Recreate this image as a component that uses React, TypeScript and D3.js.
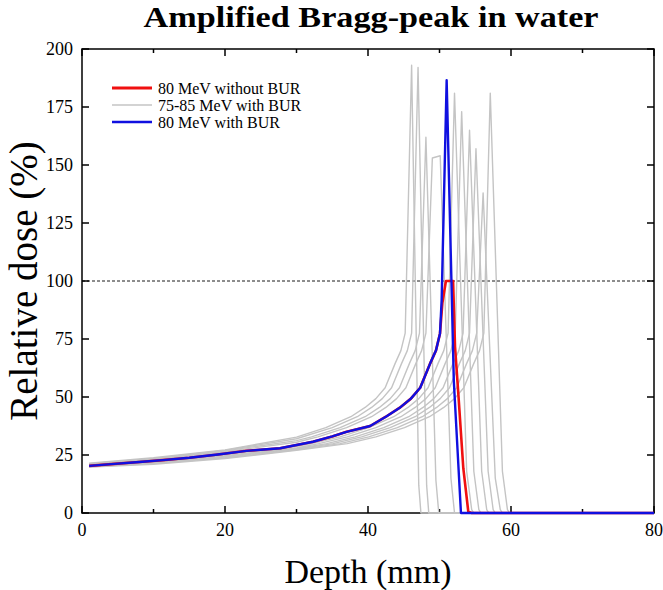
import React from "react";
import * as d3 from "d3";

// ---------- data (depth mm, relative dose %) ----------
const xTicksMajor = [0, 20, 40, 60, 80];
const xTicksMinor = [10, 30, 50, 70];
const yTicks = [0, 25, 50, 75, 100, 125, 150, 175, 200];

const legendLabels = ["80 MeV without BUR", "75-85 MeV with BUR", "80 MeV with BUR"];

const entrance80: [number, number][] = [
  [1, 20.3], [5, 21.3], [8, 22.0], [11.3, 22.8], [15, 23.8], [19, 25.2], [23, 26.8],
  [27.7, 27.9], [32.3, 30.7], [35, 33.0], [37, 35.0], [40.3, 37.5], [42.5, 41.5],
  [44.5, 45.5], [46, 49.3], [47.3, 54], [48.7, 64.5], [49.5, 70], [50.07, 77.4],
];

const noBur80: [number, number][] = [
  ...entrance80,
  [50.4, 90.5], [50.9, 100], [51.9, 100], [52.17, 71.7], [52.63, 51.5], [53.33, 19.3],
  [54.03, 0.5], [54.5, 0], [80, 0],
];

const withBur80: [number, number][] = [
  ...entrance80,
  [50.3, 91.8], [51.0, 186.5], [52.0, 57], [53.0, 0], [80, 0],
];

const bur75: [number, number][] = [
  [1, 21.5], [10, 23.8], [20, 27.2], [30, 32.7], [34.1, 36.8], [37.6, 41.5], [39.6, 45.5],
  [41.1, 49.3], [42.4, 54], [43.8, 64.5], [44.6, 70], [45.2, 77.5], [46.1, 193],
  [47.1, 12], [47.4, 0], [80, 0],
];
const bur76: [number, number][] = [
  [1, 21.3], [10, 23.5], [20, 27.0], [30, 32.0], [35, 36.8], [38.5, 41.5], [40.5, 45.5],
  [42, 49.3], [43.3, 54], [44.7, 64.5], [45.5, 70], [46.1, 77.5], [47.0, 192],
  [48.2, 12], [48.5, 0], [80, 0],
];
const bur77: [number, number][] = [
  [1, 21.0], [10, 23.2], [20, 26.8], [30, 31.2], [32.1, 32.8], [36.1, 36.8], [39.6, 41.5],
  [41.6, 45.5], [43.1, 49.3], [44.4, 54], [45.8, 64.5], [46.6, 70], [47.2, 77.5],
  [48.1, 162], [49.5, 14], [49.9, 0], [80, 0],
];
const bur78: [number, number][] = [
  [1, 20.8], [10, 23.0], [20, 26.4], [30, 30.5], [33, 32.8], [37, 36.8], [40.5, 41.5],
  [42.5, 45.5], [44, 49.3], [45.3, 54], [46.7, 64.5], [47.5, 70], [48.1, 77.5],
  [49.0, 153], [50.1, 154], [51.6, 15], [52.1, 0], [80, 0],
];
const bur79: [number, number][] = [
  [1, 20.2], [10, 22.2], [20, 25.2], [30, 28.6], [32.1, 29.9], [36.1, 32.8], [40.1, 36.8],
  [43.6, 41.5], [45.6, 45.5], [47.1, 49.3], [48.4, 54], [49.8, 64.5], [50.6, 70],
  [51.2, 77.5], [52.1, 181], [53.8, 18], [54.5, 1.5], [54.8, 0], [80, 0],
];
const bur81: [number, number][] = [
  [1, 20.1], [10, 22.0], [20, 24.8], [30, 28.0], [33.1, 29.9], [37.1, 32.8], [41.1, 36.8],
  [44.6, 41.5], [46.6, 45.5], [48.1, 49.3], [49.4, 54], [50.8, 64.5], [51.6, 70],
  [52.2, 77.5], [53.1, 173], [54.8, 18], [55.5, 1.5], [55.8, 0], [80, 0],
];
const bur82: [number, number][] = [
  [1, 20.1], [10, 21.7], [20, 24.4], [30, 27.7], [34.2, 29.9], [38.2, 32.8], [42.2, 36.8],
  [45.7, 41.5], [47.7, 45.5], [49.2, 49.3], [50.5, 54], [51.9, 64.5], [52.7, 70],
  [53.3, 77.5], [54.2, 165], [55.9, 18], [56.6, 1.5], [56.9, 0], [80, 0],
];
const bur83: [number, number][] = [
  [1, 20.0], [10, 21.5], [20, 24.1], [30, 27.5], [35.1, 29.9], [39.1, 32.8], [43.1, 36.8],
  [46.6, 41.5], [48.6, 45.5], [50.1, 49.3], [51.4, 54], [52.8, 64.5], [53.6, 70],
  [54.2, 77.5], [55.1, 157], [56.8, 18], [57.5, 1.5], [57.8, 0], [80, 0],
];
const bur84: [number, number][] = [
  [1, 19.9], [10, 21.3], [20, 23.8], [30, 27.2], [36.1, 29.9], [40.1, 32.8], [44.1, 36.8],
  [47.6, 41.5], [49.6, 45.5], [51.1, 49.3], [52.4, 54], [53.8, 64.5], [54.6, 70],
  [55.2, 77.5], [56.1, 138], [57.8, 15], [58.5, 1.5], [58.8, 0], [80, 0],
];
const bur85: [number, number][] = [
  [1, 19.8], [10, 21.0], [20, 23.5], [30, 27.0], [37.1, 29.9], [41.1, 32.8], [45.1, 36.8],
  [48.6, 41.5], [50.6, 45.5], [52.1, 49.3], [53.4, 54], [54.8, 64.5], [55.6, 70],
  [56.2, 77.5], [57.1, 181], [58.8, 18], [59.5, 1.5], [59.8, 0], [80, 0],
];

const greyCurves = [bur75, bur76, bur77, bur78, bur79, bur81, bur82, bur83, bur84, bur85];

// ---------- layout ----------
const W = 663;
const H = 590;
const left = 82;
const right = 654;
const top = 49;
const bottom = 513;

const RED = "#f01010";
const BLUE = "#1010e0";
const GREY = "#c4c4c4";
const SERIF = "'Liberation Serif', 'Times New Roman', serif";

export default function App() {
  const x = d3.scaleLinear().domain([0, 80]).range([left, right]);
  const y = d3.scaleLinear().domain([0, 200]).range([bottom, top]);
  const line = d3
    .line<[number, number]>()
    .x((d) => x(d[0]))
    .y((d) => y(d[1]));

  const legendX = 112;
  const legendY = [88, 105, 122];
  const legendColors = [RED, GREY, BLUE];
  const legendWidths = [3, 1.5, 2.5];

  return (
    <svg
      width={W}
      height={H}
      style={{ position: "absolute", left: 0, top: 0, background: "#fff" }}
      fontFamily={SERIF}
    >
      <rect x={0} y={0} width={W} height={H} fill="#fff" />
      {/* title */}
      <text
        x={371}
        y={27}
        textAnchor="middle"
        fontSize={30}
        fontWeight="bold"
        fill="#000"
        textLength={455}
        lengthAdjust="spacingAndGlyphs"
      >
        Amplified Bragg-peak in water
      </text>

      {/* reference line at 100 % */}
      <line
        x1={x(0)}
        x2={x(80)}
        y1={y(100)}
        y2={y(100)}
        stroke="#000"
        strokeWidth={0.9}
        strokeDasharray="3,2"
      />

      {/* frame */}
      <rect
        x={left}
        y={top}
        width={right - left}
        height={bottom - top}
        fill="none"
        stroke="#000"
        strokeWidth={1.5}
      />

      {/* x ticks */}
      {xTicksMajor.map((t) => (
        <g key={"xm" + t}>
          <line x1={x(t)} x2={x(t)} y1={bottom} y2={bottom - 7} stroke="#000" strokeWidth={1.5} />
          <line x1={x(t)} x2={x(t)} y1={top} y2={top + 7} stroke="#000" strokeWidth={1.5} />
          <text x={x(t)} y={536} textAnchor="middle" fontSize={18}>
            {t}
          </text>
        </g>
      ))}
      {xTicksMinor.map((t) => (
        <g key={"xn" + t}>
          <line x1={x(t)} x2={x(t)} y1={bottom} y2={bottom - 4} stroke="#000" strokeWidth={1.5} />
          <line x1={x(t)} x2={x(t)} y1={top} y2={top + 4} stroke="#000" strokeWidth={1.5} />
        </g>
      ))}

      {/* y ticks */}
      {yTicks.map((t) => (
        <g key={"y" + t}>
          <line x1={left} x2={left + 7} y1={y(t)} y2={y(t)} stroke="#000" strokeWidth={1.5} />
          <line x1={right} x2={right - 7} y1={y(t)} y2={y(t)} stroke="#000" strokeWidth={1.5} />
          <text x={73} y={y(t) + 6} textAnchor="end" fontSize={18}>
            {t}
          </text>
        </g>
      ))}

      {/* curves */}
      <g fill="none" strokeLinejoin="round">
        {greyCurves.map((c, i) => (
          <path key={i} d={line(c) ?? ""} stroke={GREY} strokeWidth={1.4} />
        ))}
        <path d={line(noBur80) ?? ""} stroke={RED} strokeWidth={2.6} />
        <path d={line(withBur80) ?? ""} stroke={BLUE} strokeWidth={2.4} />
      </g>

      {/* axis labels */}
      <text x={368} y={583} textAnchor="middle" fontSize={34}>
        Depth (mm)
      </text>
      <text
        transform={`translate(37, 281) rotate(-90)`}
        textAnchor="middle"
        fontSize={39}
      >
        Relative dose (%)
      </text>

      {/* legend */}
      {legendLabels.map((lab, i) => (
        <g key={lab}>
          <line
            x1={legendX}
            x2={legendX + 40}
            y1={legendY[i]}
            y2={legendY[i]}
            stroke={legendColors[i]}
            strokeWidth={legendWidths[i]}
          />
          <text x={158} y={legendY[i] + 6} fontSize={16}>
            {lab}
          </text>
        </g>
      ))}
    </svg>
  );
}
